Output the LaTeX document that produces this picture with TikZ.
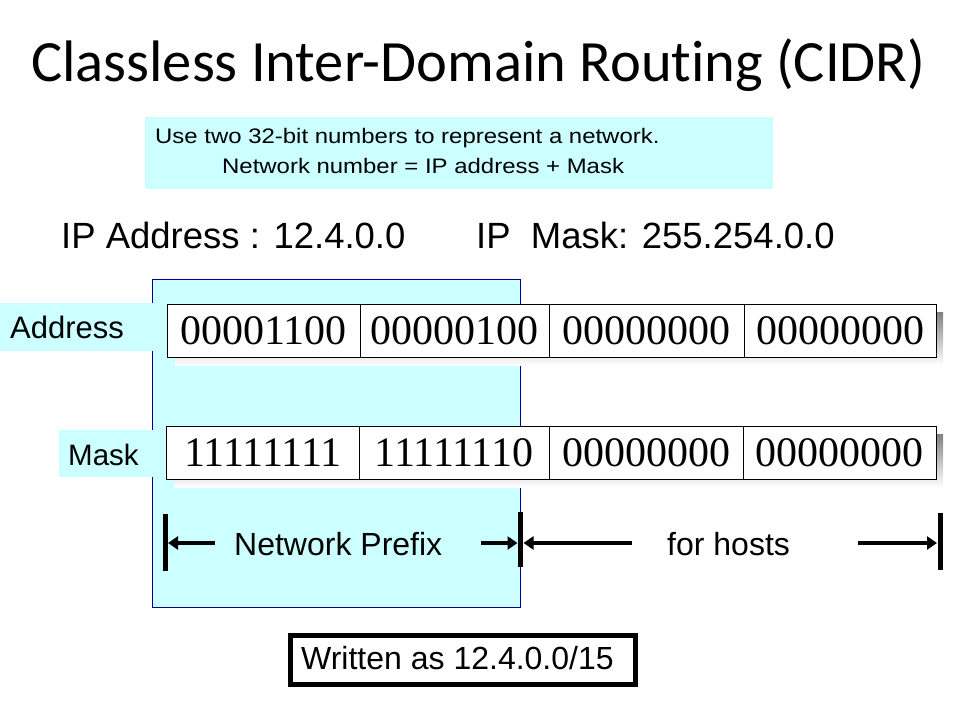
\documentclass[tikz,border=0pt]{standalone}
\usepackage{fontspec}
\setmainfont{Liberation Sans}
\newfontfamily\titlefont[Ligatures=NoCommon]{Carlito}
\newfontfamily\widefont[FakeStretch=1.14]{Liberation Sans}
\newfontfamily\bitfont{Liberation Serif}
\usetikzlibrary{arrows.meta}
\definecolor{paleblue}{RGB}{204,255,255}
\definecolor{edgeblue}{RGB}{0,0,153}
\definecolor{shade}{RGB}{234,232,222}

\begin{document}
\begin{tikzpicture}[x={(1pt,0pt)}, y={(0pt,-1pt)},
  txt/.style={inner sep=0pt, anchor=base west},
  cell/.style={draw, fill=white, line width=1pt, minimum height=53pt, inner sep=0pt, font=\bitfont\fontsize{42}{48}\selectfont},
  bar/.style={line width=5pt},
  span/.style={line width=4pt, -{Triangle[length=10pt,width=13pt]}}]
\useasboundingbox (0,0) rectangle (960,720);
\node[txt, font=\titlefont\fontsize{58.5}{68}\selectfont] (title) at (31,81) {Classless Inter-Domain Routing (CIDR)};
\fill[paleblue] (145,117) rectangle (773,189);
\node[txt, font=\widefont\fontsize{21}{25}\selectfont] (use) at (155,143) {Use two 32-bit numbers to represent a network.};
\node[txt, font=\widefont\fontsize{21}{25}\selectfont] (netnum) at (222,173) {Network number = IP address + Mask};
\node[txt, font=\fontsize{36.5}{42}\selectfont] (ipaddr) at (61,248) {IP Address : 12.4.0.0};
\node[txt, font=\fontsize{36.5}{42}\selectfont] (ipmask) at (476,248) {IP\ \ Mask: 255.254.0.0};
% network part
\draw[fill=paleblue, draw=edgeblue] (152,279) rectangle (520.5,607);
\fill[paleblue] (0,303) rectangle (153,351);
\node[txt, font=\fontsize{31}{36}\selectfont] (addrlab) at (10,338) {Address};
\fill[paleblue] (59,430) rectangle (153,477);
\node[txt, font=\fontsize{29.5}{35}\selectfont] (masklab) at (68,465) {Mask};
% address bits
\fill[shade] (175,312) rectangle (943,365);
\node[cell, minimum width=193pt] (a1) at (263.5,330.5) {00001100};
\node[cell, minimum width=189pt] (a2) at (454.5,330.5) {00000100};
\node[cell, minimum width=195pt] (a3) at (646.5,330.5) {00000000};
\node[cell, minimum width=192pt] (a4) at (840,330.5) {00000000};
% mask bits
\fill[shade] (174,434) rectangle (943,487);
\node[cell, minimum width=193pt] (m1) at (263,452.5) {11111111};
\node[cell, minimum width=190pt] (m2) at (454,452.5) {11111110};
\node[cell, minimum width=194pt] (m3) at (646,452.5) {00000000};
\node[cell, minimum width=193pt] (m4) at (839.5,452.5) {00000000};
% prefix / hosts
\coordinate (p0) at (165,543);
\coordinate (p1) at (520.5,543);
\coordinate (p2) at (940,543);
\draw[bar] (165,514) -- (165,571);
\draw[bar] (520.5,512) -- (520.5,567);
\draw[bar] (940,513) -- (940,570);
\coordinate (pl) at (215,543);
\coordinate (pr) at (481,543);
\coordinate (hl) at (632,543);
\coordinate (hr) at (858,543);
\draw[span] (pl) -- ([xshift=3pt]p0);
\draw[span] (pr) -- ([xshift=-3pt]p1);
\draw[span] (hl) -- ([xshift=3pt]p1);
\draw[span] (hr) -- ([xshift=-3pt]p2);
\node[txt, font=\fontsize{32}{37}\selectfont] (prefix) at (234,555) {Network Prefix};
\node[txt, font=\fontsize{32}{37}\selectfont] (hosts) at (667,555) {for hosts};
\draw[line width=5pt] (290.5,635.5) rectangle (635.5,684.5);
\node[txt, font=\fontsize{32}{37}\selectfont] (written) at (301,669) {Written as 12.4.0.0/15};
\end{tikzpicture}
\end{document}
